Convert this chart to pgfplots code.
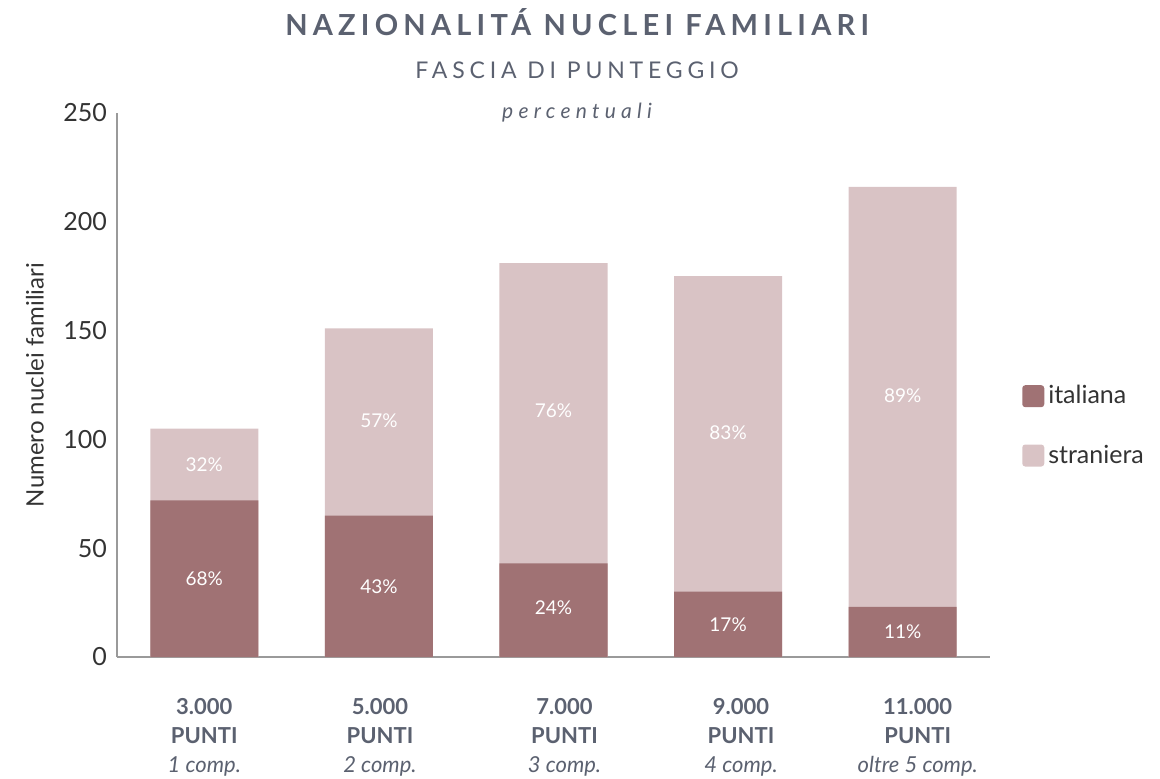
\documentclass[border=0pt]{standalone}
\usepackage{fontspec}
\setmainfont{Lato}
\newfontfamily\titlefont[LetterSpace=18]{Lato}
\newfontfamily\subfont[LetterSpace=21]{Lato}
\newfontfamily\pctfont[LetterSpace=25]{Lato}
\usepackage{pgfplots}
\pgfplotsset{compat=1.18}

\definecolor{ital}{HTML}{A07274}
\definecolor{stra}{HTML}{D9C3C5}
\definecolor{titlec}{HTML}{5B6170}
\definecolor{txt}{HTML}{333333}
\definecolor{axc}{HTML}{9A9A9A}

\begin{document}
\begin{tikzpicture}
\begin{axis}[
    width=436.5pt, height=272pt, scale only axis, clip=false,
    ymin=0, ymax=250, xmin=-0.5, xmax=4.5,
    ytick={0,50,...,250},
    % the category names sit slightly wider apart than the bars
    xtick={0,1.006,2.063,3.074,4.086},
    xticklabels={
      {\textbf{3.000}\\\textbf{PUNTI}\\\textit{1 comp.}},
      {\textbf{5.000}\\\textbf{PUNTI}\\\textit{2 comp.}},
      {\textbf{7.000}\\\textbf{PUNTI}\\\textit{3 comp.}},
      {\textbf{9.000}\\\textbf{PUNTI}\\\textit{4 comp.}},
      {\textbf{11.000}\\\textbf{PUNTI}\\\textit{oltre 5 comp.}}},
    xticklabel style={align=center, text=titlec,
      font=\fontsize{11}{14.5}\selectfont, yshift=-17pt},
    yticklabel style={text=txt, font=\fontsize{12.5}{14}\selectfont, xshift=-1.5pt},
    /pgf/number format/assume math mode=true,
    axis lines=left,
    axis line style={axc, line width=0.6pt, -},
    major tick length=0pt,
    ylabel={Numero nuclei familiari},
    ylabel style={at={(axis description cs:-0.094,0.5)}, anchor=center,
      text=txt, font=\fontsize{12}{14}\selectfont},
    ybar, bar width=54pt, bar shift=0pt,
    reverse legend,
    legend style={at={(axis description cs:1.0365,0.425)}, anchor=west,
      draw=none, fill=none, inner sep=0pt, row sep=15pt,
      font=\fontsize{12.5}{14}\selectfont, text=txt},
    legend cell align=left,
    legend image code/.code={\fill[rounded corners=1.5pt] (-2pt,-5.5pt) rectangle (9pt,5.5pt);},
]
% straniera drawn as the full bar height (italiana + straniera)
\addplot[fill=stra, draw=none] coordinates {(0,105) (1,151) (2,181) (3,175) (4,216)};
\addlegendentry{straniera}
\addplot[fill=ital, draw=none] coordinates {(0,72) (1,65) (2,43) (3,30) (4,23)};
\addlegendentry{italiana}

% percentage labels at the middle of each segment
\addplot[draw=none, fill=none, forget plot, nodes near coords, point meta=explicit symbolic,
  every node near coord/.style={anchor=center, text=white, font=\fontsize{9.5}{11}\selectfont}]
  coordinates {(0,36)[68\%] (1,32.5)[43\%] (2,22.5)[24\%] (3,15)[17\%] (4,11.5)[11\%]};
\addplot[draw=none, fill=none, forget plot, nodes near coords, point meta=explicit symbolic,
  every node near coord/.style={anchor=center, text=white, font=\fontsize{9.5}{11}\selectfont}]
  coordinates {(0,88.5)[32\%] (1,108.5)[57\%] (2,113)[76\%] (3,103)[83\%] (4,120)[89\%]};

\node[font=\titlefont\bfseries\fontsize{14.5}{16}\selectfont, text=titlec]
  at (axis description cs:0.527,1.167) {NAZIONALITÁ NUCLEI FAMILIARI};
\node[font=\subfont\fontsize{11.5}{13}\selectfont, text=titlec]
  at (axis description cs:0.527,1.079) {FASCIA DI PUNTEGGIO};
\node[font=\pctfont\itshape\fontsize{10.5}{12}\selectfont, text=titlec]
  at (axis description cs:0.527,1.0) {percentuali};

\coordinate (ll) at (rel axis cs:0,0);
\end{axis}
\pgfresetboundingbox
\useasboundingbox ([shift={(-58.5pt,-60.5pt)}]ll) rectangle ([shift={(521.5pt,328.5pt)}]ll);
\end{tikzpicture}
\end{document}
